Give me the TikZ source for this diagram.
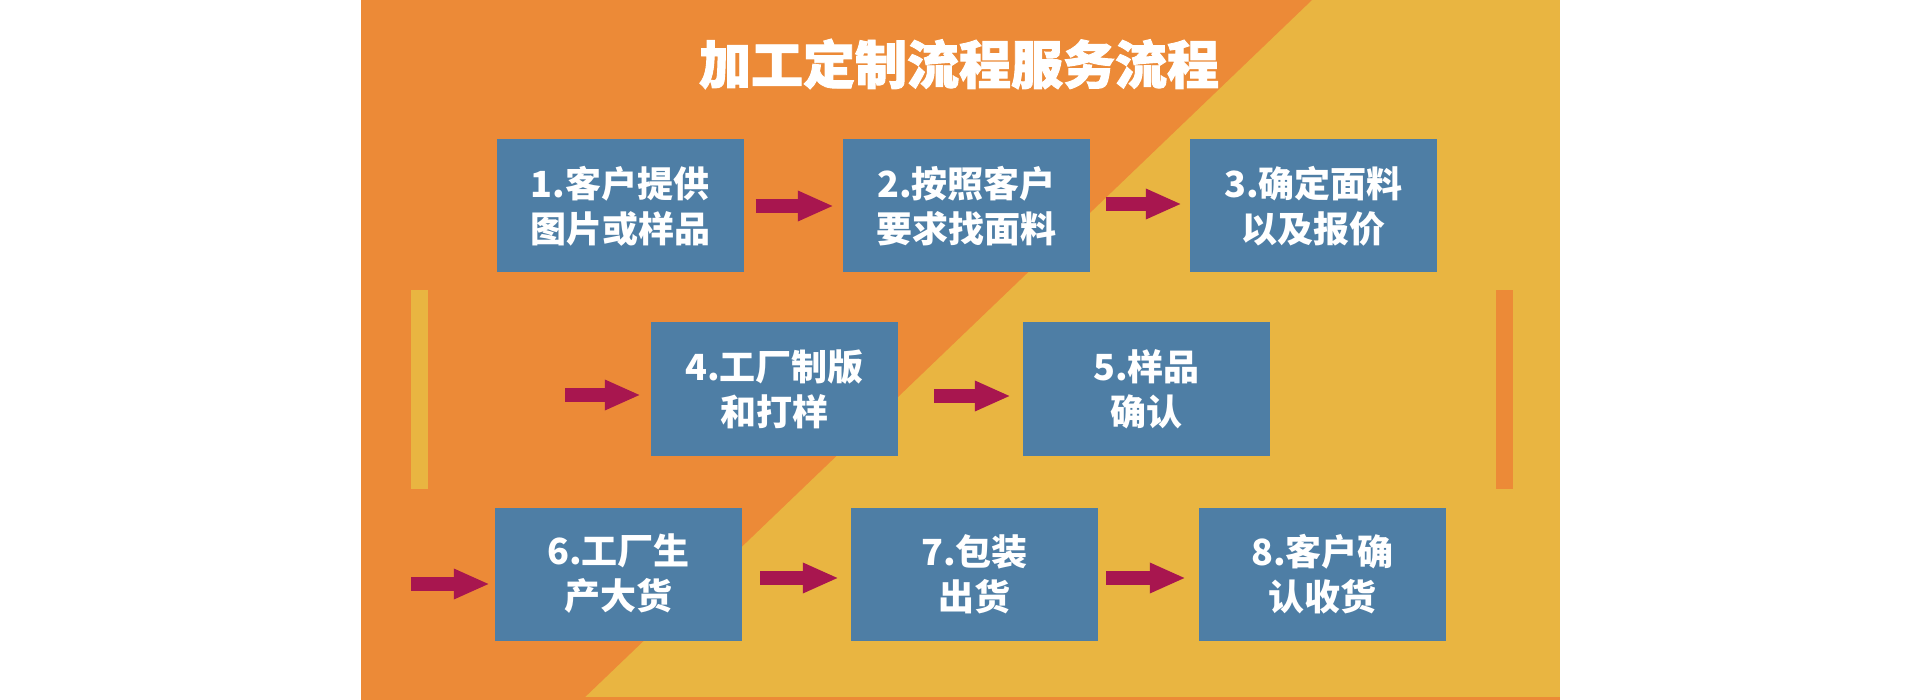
\documentclass[tikz,border=0pt]{standalone}
\usepackage{fontspec}
\newfontfamily\cjk{Noto Sans CJK SC}
\newfontfamily\cjktitle{Noto Sans CJK SC}[BoldFeatures={FakeBold=1.8}]
\usetikzlibrary{arrows.meta}
\definecolor{bgorange}{HTML}{EC8A37}
\definecolor{bgyellow}{HTML}{E9B541}
\definecolor{boxblue}{HTML}{4E7EA5}
\definecolor{arrowred}{HTML}{A8164F}
\tikzset{
  stepbox/.style={fill=boxblue, minimum width=247pt, minimum height=133pt, inner sep=0pt,
    text=white, align=center, font=\cjk\bfseries\fontsize{36}{45}\selectfont},
  blockarrow/.style={draw=arrowred, line width=14pt, -{Triangle[length=36pt,width=28pt]}},
}
\begin{document}
\begin{tikzpicture}[x=1pt,y=-1pt]
\useasboundingbox (0,0) rectangle (1920,700);
\fill[white] (0,0) rectangle (1920,700);
\fill[bgyellow] (361,0) rectangle (1560,700);
\fill[bgorange] (361,0) -- (1312,0) -- (582,700) -- (361,700) -- cycle;
\fill[bgorange] (361,697) rectangle (1560,700);
% side bars
\fill[bgyellow] (411,290) rectangle (428,489);
\fill[bgorange] (1496,290) rectangle (1513,489);
% title
\node[text=white, font=\cjktitle\bfseries\fontsize{52}{60}\selectfont] (title) at (959,64) {加工定制流程服务流程};
% boxes
\node[stepbox] (b1) at (620,206) {1.客户提供\\图片或样品};
\node[stepbox] (b2) at (966.5,206) {2.按照客户\\要求找面料};
\node[stepbox] (b3) at (1313.5,206) {3.确定面料\\以及报价};
\node[stepbox] (b4) at (774.5,389) {4.工厂制版\\和打样};
\node[stepbox] (b5) at (1146.5,389) {5.样品\\确认};
\node[stepbox] (b6) at (618.5,574) {6.工厂生\\产大货};
\node[stepbox] (b7) at (974.5,574) {7.包装\\出货};
\node[stepbox] (b8) at (1322.5,574) {8.客户确\\认收货};
\coordinate (s4) at (565,395);
\coordinate (s6) at (411,584);
% arrows
\draw[blockarrow, shorten <=12pt, shorten >=9pt] (b1.east) -- (b2.west);
\draw[blockarrow, shorten <=16pt, shorten >=8pt] ([yshift=2pt]b2.east) -- ([yshift=2pt]b3.west);
\draw[blockarrow, shorten >=10pt] (s4) -- (s4 -| b4.west);
\draw[blockarrow, shorten <=36pt, shorten >=12pt] ([yshift=-7pt]b4.east) -- ([yshift=-7pt]b5.west);
\draw[blockarrow, shorten >=5pt] (s6) -- (s6 -| b6.west);
\draw[blockarrow, shorten <=18pt, shorten >=12pt] ([yshift=-4pt]b6.east) -- ([yshift=-4pt]b7.west);
\draw[blockarrow, shorten <=8pt, shorten >=13pt] ([yshift=-4pt]b7.east) -- ([yshift=-4pt]b8.west);
\end{tikzpicture}
\end{document}
